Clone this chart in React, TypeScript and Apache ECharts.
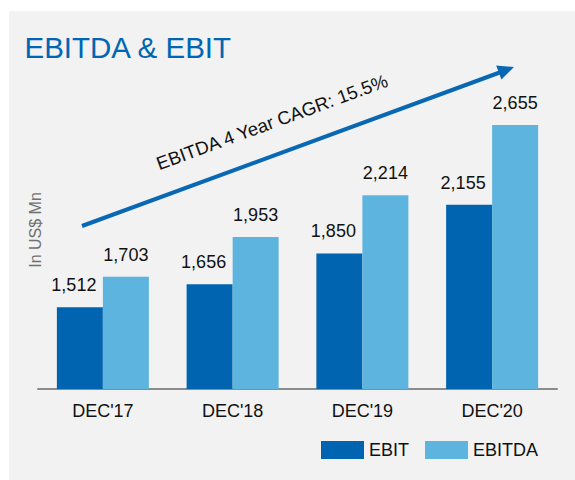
import React, { useEffect, useRef } from "react";
import * as echarts from "echarts";

const categories = ["DEC'17", "DEC'18", "DEC'19", "DEC'20"];
const ebit = [1512, 1656, 1850, 2155];
const ebitda = [1703, 1953, 2214, 2655];
const seriesNames = ["EBIT", "EBITDA"];
const titleText = "EBITDA & EBIT";
const cagrText = "EBITDA 4 Year CAGR: 15.5%";
const unitText = "In US$ Mn";

const DARK = "#0064b0";
const LIGHT = "#5db4de";
const FONT = "'Liberation Sans', Arial, Helvetica, sans-serif";

const fmt = (v: number) => v.toLocaleString("en-US");

export default function App() {
  const ref = useRef<HTMLDivElement>(null);
  useEffect(() => {
    if (!ref.current) return;
    const chart = echarts.init(ref.current, undefined, { renderer: "svg" });
    const ang = (20.1 * Math.PI) / 180;
    chart.setOption({
      animation: false,
      backgroundColor: "#ffffff",
      textStyle: { fontFamily: FONT },
      title: {
        text: titleText,
        left: 24.5,
        top: 32,
        padding: 0,
        textStyle: { color: "#0066b3", fontSize: 29.5, fontWeight: "normal", fontFamily: FONT },
      },
      legend: {
        data: seriesNames,
        left: 321,
        top: 441,
        padding: 0,
        itemWidth: 43,
        itemHeight: 18,
        itemGap: 16,
        icon: "rect",
        textStyle: { fontSize: 18, color: "#111", fontFamily: FONT },
      },
      grid: { left: 38, right: 18, top: 70, bottom: 91 },
      xAxis: {
        type: "category",
        data: categories,
        axisLine: { show: true, lineStyle: { color: "#8c8c8c", width: 2 } },
        axisTick: { show: false },
        axisLabel: { fontSize: 18, color: "#111", margin: 13, fontFamily: FONT },
      },
      yAxis: {
        type: "value",
        min: 1000,
        max: 3000,
        show: false,
        splitLine: { show: false },
      },
      graphic: [
        {
          type: "rect",
          z: -10,
          silent: true,
          shape: { x: 9, y: 11, width: 566, height: 469 },
          style: { fill: "#f2f2f2" },
        },
        {
          type: "text",
          x: 35,
          y: 230,
          rotation: Math.PI / 2,
          style: {
            text: unitText,
            fill: "#707070",
            fontSize: 16,
            fontFamily: FONT,
            align: "center",
            verticalAlign: "middle",
          },
        },
        {
          type: "line",
          shape: { x1: 82, y1: 226, x2: 501, y2: 72 },
          style: { stroke: "#0868b4", lineWidth: 4 },
        },
        {
          type: "polygon",
          shape: { points: [[514, 67], [501.4, 79.6], [496.2, 65.4]] },
          style: { fill: "#0868b4" },
        },
        {
          type: "text",
          x: 272,
          y: 122,
          rotation: ang,
          style: {
            text: cagrText,
            fill: "#111",
            fontSize: 18.5,
            fontFamily: FONT,
            align: "center",
            verticalAlign: "middle",
          },
        },
      ],
      series: [
        {
          name: seriesNames[0],
          type: "bar",
          data: ebit,
          barWidth: 46,
          barGap: "0%",
          itemStyle: { color: DARK },
          label: {
            show: true,
            position: "top",
            distance: 13,
            offset: [-6, 0],
            fontSize: 18,
            color: "#111",
            fontFamily: FONT,
            formatter: (p: any) => fmt(p.value),
          },
        },
        {
          name: seriesNames[1],
          type: "bar",
          data: ebitda,
          barWidth: 46,
          barGap: "0%",
          itemStyle: { color: LIGHT },
          label: {
            show: true,
            position: "top",
            distance: 13,
            fontSize: 18,
            color: "#111",
            fontFamily: FONT,
            formatter: (p: any) => fmt(p.value),
          },
        },
      ],
    });
    return () => chart.dispose();
  }, []);
  return (
    <div
      ref={ref}
      style={{ position: "fixed", left: 0, top: 0, width: 575, height: 480 }}
    />
  );
}
